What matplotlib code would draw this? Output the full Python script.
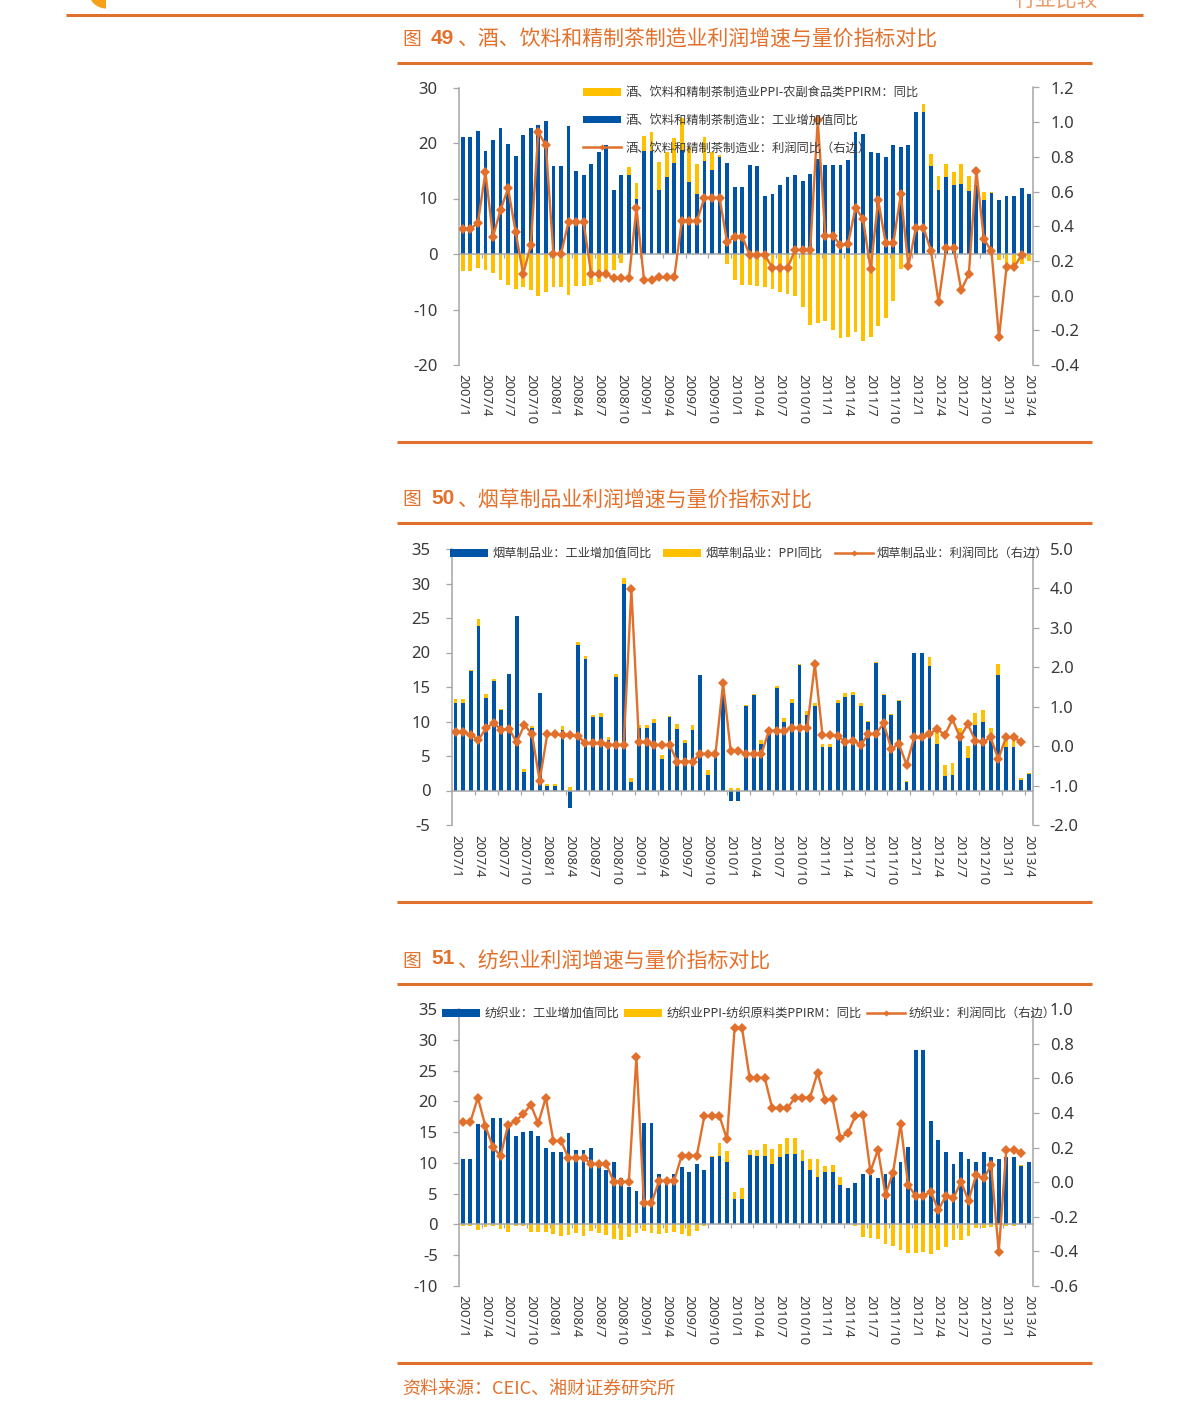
import numpy as np
import matplotlib
matplotlib.use("Agg")
import matplotlib.pyplot as plt
from matplotlib.patches import Wedge, Patch
from matplotlib.lines import Line2D

W, H = 1191, 1420
CJK = ['Noto Sans CJK SC', 'DejaVu Sans']
plt.rcParams['font.family'] = CJK
plt.rcParams['axes.unicode_minus'] = False

BLUE = '#0054A6'
YELLOW = '#FFC000'
ORANGE = '#E0702B'
TITLE = '#E3702B'
GREY = '#A6A6A6'
TXT = '#3A3A3A'

months = [f"{2007 + k // 12}/{k % 12 + 1}" for k in range(0, 76, 3)]

blue1 = [21.1,21.1,22.2,18.5,20.5,22.7,19.9,17.7,21.5,22.7,23.2,23.9,15.8,15.8,23.0,14.9,14.2,16.3,18.4,19.6,
         11.5,14.3,14.3,10.0,18.5,18.5,11.6,13.9,16.4,18.8,13.0,10.9,16.8,15.2,17.5,16.4,12.0,12.0,16.1,15.8,
         10.4,10.9,12.5,13.9,14.2,13.1,14.5,17.2,16.0,16.0,16.0,16.9,22.0,21.7,18.4,18.2,17.5,19.6,19.2,19.6,
         25.6,25.6,15.8,11.6,13.9,12.5,12.6,11.3,12.5,9.8,11.0,9.8,10.5,10.5,11.9,10.9]
yellow1 = [-3.1,-3.1,-2.5,-2.8,-3.5,-4.7,-5.5,-6.3,-6.0,-6.5,-7.6,-6.8,-6.0,-6.0,-7.3,-5.7,-5.8,-5.5,-5.1,-3.8,
           -2.8,-1.6,1.3,2.8,2.8,3.4,5.0,4.4,4.5,5.7,6.2,5.4,4.3,3.1,0.3,-1.8,-4.6,-5.5,-5.5,-5.7,
           -6.0,-6.3,-6.9,-7.2,-7.5,-9.6,-12.8,-12.5,-12.0,-13.7,-15.2,-15.0,-14.0,-15.6,-14.9,-13.0,-11.6,-8.4,-2.7,-0.3,
           -0.2,1.5,2.3,2.5,2.4,2.3,3.7,2.8,0.0,1.4,0.2,-1.0,-2.6,-2.0,-1.8,-1.3]
line1 = [0.384,0.384,0.42,0.712,0.34,0.495,0.618,0.366,0.124,0.291,0.941,0.868,0.24,0.24,0.424,0.424,0.424,0.124,0.124,0.124,
         0.10,0.10,0.10,0.507,0.09,0.09,0.105,0.105,0.105,0.43,0.43,0.43,0.564,0.564,0.564,0.307,0.34,0.34,0.234,0.234,
         0.234,0.16,0.16,0.16,0.263,0.263,0.263,1.012,0.345,0.345,0.291,0.297,0.507,0.441,0.151,0.551,0.301,0.301,0.585,0.172,
         0.391,0.391,0.257,-0.039,0.272,0.272,0.032,0.124,0.72,0.326,0.257,-0.241,0.165,0.165,0.234,np.nan]

blue2 = [12.7,12.7,17.3,23.9,13.4,15.9,11.6,16.9,25.3,2.75,9.1,14.1,0.6,0.6,8.8,-2.6,21.1,19.0,10.6,10.6,
         7.3,16.5,30.0,1.3,9.1,9.1,9.85,4.5,10.6,8.9,6.9,8.8,16.7,2.2,4.9,13.9,-1.45,-1.45,12.2,13.9,
         6.8,8.5,14.8,10.0,12.7,18.2,11.0,12.3,6.3,6.3,12.7,13.6,13.9,12.3,9.9,18.5,13.9,11.0,13.0,1.3,
         19.9,19.9,18.0,6.8,2.1,2.3,7.3,4.7,9.5,9.9,7.3,16.8,6.3,6.3,1.45,2.4]
yellow2 = [0.6,0.6,0.2,1.0,0.6,0.2,0.2,-0.1,-0.1,0.4,0.3,0.1,0.4,0.3,0.5,0.5,0.4,0.5,0.4,0.6,
           0.5,0.4,0.8,0.5,0.4,0.4,0.5,0.6,0.2,0.7,0.4,0.7,0.1,0.7,0.0,0.0,0.3,0.4,0.2,0.1,
           0.5,0.0,0.4,0.5,0.6,0.2,0.5,0.4,0.4,0.4,0.4,0.5,0.4,0.4,0.2,0.1,0.1,0.1,0.1,0.1,
           0.1,0.1,1.3,1.7,1.6,1.7,1.7,1.7,1.7,1.7,1.7,1.5,1.2,1.0,0.3,0.1]
line2 = [0.351,0.351,0.29,0.156,0.46,0.587,0.41,0.435,0.1,0.537,0.31,-0.88,0.3,0.3,0.27,0.27,0.26,0.07,0.07,0.07,
         0.03,0.03,0.03,3.98,0.1,0.1,0.03,0.03,0.03,-0.39,-0.39,-0.39,-0.2,-0.2,-0.2,1.59,-0.12,-0.12,-0.2,-0.2,
         -0.2,0.39,0.39,0.39,0.46,0.46,0.46,2.08,0.28,0.28,0.26,0.1,0.14,0.03,0.31,0.31,0.58,-0.07,0.055,-0.47,
         0.22,0.22,0.31,0.44,0.28,0.68,0.22,0.56,0.14,0.11,0.22,-0.33,0.22,0.22,0.11,np.nan]

blue3 = [10.7,10.7,16.3,15.9,17.3,17.3,15.9,14.3,15.0,15.2,14.3,12.4,11.75,11.75,14.9,12.1,12.1,12.4,9.3,8.8,
         10.1,7.6,6.1,5.4,16.5,16.5,8.2,7.6,8.2,9.3,8.5,9.75,8.9,11.0,11.15,10.1,4.1,4.1,11.3,11.15,
         11.15,9.9,11.0,11.5,11.5,10.3,8.8,7.7,8.5,8.5,6.4,5.85,6.8,8.2,8.1,7.5,8.2,8.2,10.1,12.6,
         28.4,28.4,16.8,13.7,11.8,9.8,11.8,10.7,10.1,11.8,11.0,10.7,11.0,11.0,9.5,10.1]
yellow3 = [-0.2,-0.2,-0.9,-0.4,-0.2,-0.7,-1.2,-0.2,-0.2,-1.2,-1.3,-1.2,-1.6,-1.8,-1.7,-1.4,-1.8,-1.1,-1.4,-1.7,
           -2.4,-2.6,-2.0,-1.4,-1.0,-1.4,-1.5,-1.4,-1.2,-1.5,-1.8,-1.0,-0.2,0.2,2.0,1.8,1.1,1.9,0.8,1.0,
           1.9,2.3,2.0,2.6,2.6,1.8,1.8,3.0,1.0,1.1,1.3,0.1,-0.2,-2.1,-2.2,-2.4,-3.2,-3.5,-4.2,-4.6,
           -4.6,-4.5,-4.8,-4.2,-3.6,-2.6,-2.5,-1.8,-0.6,-0.5,-0.4,-0.1,-0.2,-0.2,0.1,0.1]
line3 = [0.347,0.347,0.488,0.324,0.201,0.151,0.33,0.353,0.392,0.447,0.34,0.488,0.238,0.238,0.141,0.141,0.141,0.105,0.105,0.105,
         0.002,0.002,0.002,0.721,-0.122,-0.122,0.008,0.008,0.008,0.153,0.153,0.153,0.382,0.382,0.382,0.247,0.888,0.888,0.603,0.603,
         0.603,0.426,0.426,0.426,0.488,0.488,0.488,0.632,0.474,0.478,0.257,0.282,0.382,0.388,0.062,0.186,-0.074,0.055,0.336,-0.017,
         -0.08,-0.08,-0.055,-0.161,-0.08,-0.094,0.002,-0.107,0.041,0.021,0.097,-0.402,0.186,0.186,0.17,np.nan]

titles = ["、酒、饮料和精制茶制造业利润增速与量价指标对比",
          "、烟草制品业利润增速与量价指标对比",
          "、纺织业利润增速与量价指标对比"]
numbers = ["49", "50", "51"]

legend1 = ["酒、饮料和精制茶制造业PPI-农副食品类PPIRM：同比", "酒、饮料和精制茶制造业：工业增加值同比", "酒、饮料和精制茶制造业：利润同比（右边）"]
legend2 = ["烟草制品业：工业增加值同比", "烟草制品业：PPI同比", "烟草制品业：利润同比（右边）"]
legend3 = ["纺织业：工业增加值同比", "纺织业PPI-纺织原料类PPIRM：同比", "纺织业：利润同比（右边）"]

fig = plt.figure(figsize=(W / 100, H / 100), dpi=100, facecolor='white')

# page furniture in pixel coordinates
page = fig.add_axes([0, 0, 1, 1], zorder=-5)
page.set_xlim(0, W)
page.set_ylim(H, 0)
page.axis('off')
page.plot([66, 1143], [15, 15], color=ORANGE, lw=2.2, solid_capstyle='butt')
page.add_patch(Wedge((106, -9), 17.5, 90, 180, color='#F7A11A', lw=0))
page.text(1014, 1, "行业比较", color='#E99A68', fontsize=15, va='center', ha='left')
for y in (63, 442, 523, 902, 984, 1363):
    page.plot([397, 1092], [y, y], color=ORANGE, lw=2.2, solid_capstyle='butt')
for y, n, t in zip((38, 498, 959), numbers, titles):
    page.text(402, y + 2, "图", color=TITLE, fontsize=13.5, va='center', ha='left')
    page.text(431, y, n, color=TITLE, fontsize=15, va='center', ha='left',
              family='Liberation Sans', weight='bold')
    page.text(458, y + 2, t, color=TITLE, fontsize=15, va='center', ha='left')
page.text(402, 1389, "资料来源：CEIC、湘财证券研究所", color=TITLE, fontsize=13, va='center', ha='left')


def panel(box, blue, yellow, line, ylim, ystep, rlim, rstep, labels, order, legend_xy, ncol, ldec, label_top):
    left, right, top, bottom = box
    pos = [left / W, 1 - bottom / H, (right - left) / W, (bottom - top) / H]
    ax = fig.add_axes(pos)
    x = np.arange(len(blue))
    b = np.array(blue, float)
    yl = np.array(yellow, float)
    base = np.where((yl > 0) & (b > 0), b, 0.0)
    ax.bar(x, b, width=0.5, color=BLUE, zorder=2)
    ax.bar(x, yl, width=0.5, bottom=base, color=YELLOW, zorder=2)
    ax.set_xlim(-0.5, len(blue) - 0.5)
    ax.set_ylim(*ylim)
    yt = np.arange(ylim[0], ylim[1] + 1e-6, ystep)
    ax.set_yticks(yt)
    ax.set_yticklabels([f"{v:g}" for v in yt], fontsize=12, family='Noto Sans', color=TXT)
    ax.tick_params(axis='y', length=4.3, width=0.9, color=GREY, pad=11)
    for s in ('top', 'right'):
        ax.spines[s].set_visible(False)
    ax.spines['left'].set_color(GREY)
    ax.spines['left'].set_linewidth(1.1)
    ax.spines['bottom'].set_position(('data', 0))
    ax.spines['bottom'].set_color(GREY)
    ax.spines['bottom'].set_linewidth(1.1)
    ax.spines['bottom'].set_zorder(3)
    ax.set_xticks(np.arange(0, len(blue), 3))
    zero_px = top + (bottom - top) * ylim[1] / (ylim[1] - ylim[0])
    ax.set_xticklabels(months, rotation=-90, fontsize=9.5, family='Noto Sans', color=TXT, va='top', ha='center')
    ax.tick_params(axis='x', which='major', length=0, pad=(label_top - zero_px) * 0.72)
    ax.set_xticks(np.arange(-0.5 + 3, len(blue), 3), minor=True)
    ax.tick_params(axis='x', which='minor', length=3.2, width=0.9, color=GREY)

    ax2 = fig.add_axes(pos, sharex=ax)
    ax2.patch.set_alpha(0)
    ax2.plot(x, line, color=ORANGE, lw=1.7, marker='D', ms=4.8, mew=0, zorder=4)
    ax2.set_ylim(*rlim)
    rt = np.arange(rlim[0], rlim[1] + 1e-6, rstep)
    ax2.yaxis.tick_right()
    ax2.set_yticks(rt)
    ax2.set_yticklabels([f"{v:.1f}" for v in rt], fontsize=12, family='Noto Sans', color=TXT)
    ax2.tick_params(axis='y', length=4.3, width=0.9, color=GREY, pad=8)
    ax2.tick_params(axis='x', which='both', bottom=False, labelbottom=False)
    for s in ('top', 'left', 'bottom'):
        ax2.spines[s].set_visible(False)
    ax2.spines['right'].set_color(GREY)
    ax2.spines['right'].set_linewidth(1.1)

    handles = {
        'b': Patch(facecolor=BLUE, edgecolor='none'),
        'y': Patch(facecolor=YELLOW, edgecolor='none'),
        'l': Line2D([], [], color=ORANGE, lw=1.8, marker='D', ms=3.2, mew=0),
    }
    ax2.legend([handles[k] for k in order], labels, loc='upper left',
               bbox_to_anchor=(legend_xy[0] / W, 1 - legend_xy[1] / H), bbox_transform=fig.transFigure,
               ncol=ncol, frameon=False, prop={'size': 8.85, 'family': CJK},
               labelcolor=TXT, handlelength=3.1, handleheight=0.6, handletextpad=0.35,
               columnspacing=ldec, labelspacing=1.2, borderpad=0, borderaxespad=0)


panel((459, 1033, 87.5, 365), blue1, yellow1, line1, (-20, 30), 10, (-0.4, 1.2), 0.2,
      legend1, 'ybl', (583, 86), 1, 1.0, 374)
panel((451.7, 1032.7, 549, 825), blue2, yellow2, line2, (-5, 35), 5, (-2, 5), 1,
      legend2, 'byl', (450, 547), 3, 0.95, 835)
panel((459, 1032.7, 1009, 1286), blue3, yellow3, line3, (-10, 35), 5, (-0.6, 1.0), 0.2,
      legend3, 'byl', (442, 1007), 3, 0.4, 1295)

fig.savefig('out.png', dpi=100)
